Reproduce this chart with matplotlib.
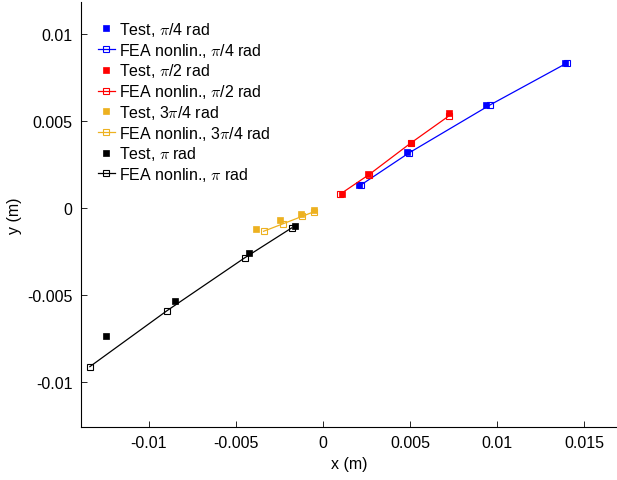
import matplotlib
matplotlib.use("Agg")
import matplotlib.pyplot as plt

plt.rcParams['font.family'] = ['Liberation Sans', 'DejaVu Sans']
plt.rcParams['mathtext.fontset'] = 'cm'

# Test data (x, y in metres)
test_q_x = [0.00207, 0.00483, 0.00937, 0.01391]
test_q_y = [0.00132, 0.00322, 0.00592, 0.00833]
fea_q_x = [0.00218, 0.00494, 0.00960, 0.01402]
fea_q_y = [0.00132, 0.00316, 0.00592, 0.00833]

test_h_x = [0.00107, 0.00257, 0.00507, 0.00726]
test_h_y = [0.00080, 0.00194, 0.00375, 0.00544]
fea_h_x = [0.00100, 0.00264, 0.00506, 0.00724]
fea_h_y = [0.00080, 0.00191, 0.00374, 0.00529]

test_3q_x = [-0.00387, -0.00247, -0.00128, -0.00050]
test_3q_y = [-0.00119, -0.00067, -0.00033, -0.000115]
fea_3q_x = [-0.00341, -0.00232, -0.00119, -0.00050]
fea_3q_y = [-0.00134, -0.00092, -0.00048, -0.00021]

test_p_x = [-0.01247, -0.00849, -0.00427, -0.00161]
test_p_y = [-0.00734, -0.00534, -0.00259, -0.00105]
fea_p_x = [-0.01339, -0.00898, -0.00450, -0.00180]
fea_p_y = [-0.00912, -0.00592, -0.00287, -0.00115]

xticks = [-0.01, -0.005, 0, 0.005, 0.01, 0.015]
yticks = [-0.01, -0.005, 0, 0.005, 0.01]
xtick_labels = ['-0.01', '-0.005', '0', '0.005', '0.01', '0.015']
ytick_labels = ['-0.01', '-0.005', '0', '0.005', '0.01']

W, H = 617, 481
fig = plt.figure(figsize=(W / 100, H / 100), dpi=100)
ax = fig.add_axes([81 / W, 1 - 428 / H, (617 - 81) / W, (428 - 3) / H])

blue = (0, 0, 1)
red = (1, 0, 0)
yellow = (0.929, 0.694, 0.125)
black = (0, 0, 0)

series = [
    (test_q_x, test_q_y, fea_q_x, fea_q_y, blue, r'$\pi$/4'),
    (test_h_x, test_h_y, fea_h_x, fea_h_y, red, r'$\pi$/2'),
    (test_3q_x, test_3q_y, fea_3q_x, fea_3q_y, yellow, r'3$\pi$/4'),
    (test_p_x, test_p_y, fea_p_x, fea_p_y, black, r'$\pi$'),
]
for tx, ty, fx, fy, c, lab in series:
    ax.plot(tx, ty, linestyle='none', marker='s', ms=5, mfc=c, mec=c,
            mew=0.5, label='Test, ' + lab + ' rad')
    ax.plot(fx, fy, linestyle='-', lw=0.9, color=c, marker='s', ms=4.5,
            mfc='none', mec=c, mew=0.8, label='FEA nonlin., ' + lab + ' rad')

ax.set_xlim(-0.0139, 0.0169)
ax.set_ylim(-0.01259, 0.01184)
ax.set_xticks(xticks)
ax.set_xticklabels(xtick_labels)
ax.set_yticks(yticks)
ax.set_yticklabels(ytick_labels)
ax.tick_params(direction='in', length=4, width=0.6, labelsize=11.5, pad=6)
for s in ['top', 'right']:
    ax.spines[s].set_visible(False)
for s in ['left', 'bottom']:
    ax.spines[s].set_linewidth(0.8)
ax.set_xlabel('x (m)', fontsize=11.5, labelpad=4)
ax.set_ylabel('y (m)', fontsize=11.5, labelpad=4)

leg = ax.legend(loc='upper left', bbox_to_anchor=(98 / W, 1 - 21 / H),
                bbox_transform=fig.transFigure, frameon=False, fontsize=11.5,
                handlelength=1.06, handletextpad=0.25, labelspacing=0.17,
                borderaxespad=0, borderpad=0)

fig.savefig('out.png', dpi=100)
